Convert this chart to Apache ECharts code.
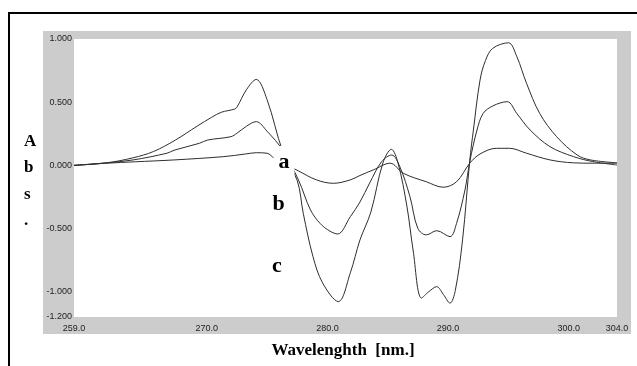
<!DOCTYPE html>
<html>
<head>
<meta charset="utf-8">
<script src="https://cdn.jsdelivr.net/npm/echarts@6/dist/echarts.min.js"></script>
<style>
  html, body { margin: 0; padding: 0; background: #fff; }
  #chart { width: 637px; height: 366px; }
</style>
</head>
<body>
<div id="chart"></div>
<script>
// Wavelength (nm) and absorbance
const waveA = [259.0, 261.7, 264.0, 267.3, 271.4, 273.2, 274.1, 275.0, 275.6, 276.5, 277.6, 279.1, 280.5, 281.9, 282.7, 283.8, 285.2, 286.3, 288.2, 289.6, 290.7, 291.8, 292.65, 294.0, 295.1, 296.5, 298.45, 300.4, 302.0, 304.0];
const absA  = [0.000, 0.017, 0.028, 0.043, 0.069, 0.090, 0.100, 0.096, 0.056, 0.010, -0.044, -0.115, -0.142, -0.115, -0.080, -0.036, 0.017, -0.063, -0.130, -0.173, -0.130, 0.017, 0.090, 0.135, 0.135, 0.096, 0.043, 0.020, 0.017, 0.017];

const waveB = [259.0, 261.7, 263.9, 266.7, 267.3, 269.4, 270.05, 272.0, 272.5, 273.3, 274.1, 275.0, 276.3, 277.6, 278.6, 279.4, 280.2, 280.85, 281.9, 282.7, 283.5, 284.5, 285.33, 286.0, 286.84, 287.5, 288.2, 289.06, 290.16, 290.7, 291.4, 291.8, 292.4, 292.9, 293.7, 294.9, 295.7, 296.8, 298.45, 300.4, 302.0, 304.0];
const absB  = [0.000, 0.020, 0.043, 0.096, 0.120, 0.175, 0.200, 0.227, 0.254, 0.310, 0.346, 0.270, 0.120, -0.115, -0.353, -0.460, -0.520, -0.543, -0.406, -0.290, -0.140, 0.030, 0.082, -0.010, -0.247, -0.500, -0.550, -0.517, -0.564, -0.460, -0.195, 0.030, 0.280, 0.410, 0.470, 0.504, 0.410, 0.280, 0.148, 0.069, 0.030, 0.003];

const waveC = [259.0, 261.7, 263.9, 265.6, 267.4, 269.2, 270.4, 271.2, 272.3, 272.5, 273.3, 274.1, 275.0, 276.3, 277.5, 278.0, 278.8, 279.6, 280.9, 281.9, 282.7, 283.6, 284.6, 285.3, 285.85, 286.6, 287.1, 287.8, 288.4, 289.06, 289.6, 290.16, 290.6, 291.2, 291.8, 292.1, 292.65, 293.1, 293.7, 295.0, 295.7, 296.5, 297.6, 299.0, 300.7, 301.8, 304.0];
const absC  = [0.000, 0.020, 0.060, 0.110, 0.200, 0.310, 0.380, 0.420, 0.445, 0.460, 0.600, 0.680, 0.520, 0.110, -0.120, -0.380, -0.720, -0.930, -1.078, -0.850, -0.590, -0.370, 0.020, 0.127, 0.020, -0.330, -0.670, -1.050, -1.000, -0.960, -1.020, -1.090, -0.990, -0.590, 0.040, 0.280, 0.675, 0.830, 0.926, 0.970, 0.860, 0.650, 0.410, 0.227, 0.082, 0.043, 0.020];

const xTicks = [259, 270, 280, 290, 300, 304];
const yTicks = [-1.2, -1.0, -0.5, 0, 0.5, 1.0];

const pairs = (xs, ys) => xs.map((x, i) => [x, ys[i]]);
const lineSeries = (name, xs, ys) => ({
  name: name, type: 'line', data: pairs(xs, ys), showSymbol: false, smooth: 0.35,
  lineStyle: { color: '#2e2e2e', width: 1 }, z: 3, silent: true
});

const chart = echarts.init(document.getElementById('chart'), null, { renderer: 'canvas' });
const serif = '"Liberation Serif", "DejaVu Serif", serif';
chart.setOption({
  animation: false,
  grid: { left: 74, top: 39, right: 20, bottom: 49, containLabel: false },
  xAxis: {
    type: 'value', min: 259, max: 304,
    axisLine: { show: false }, axisTick: { show: false }, splitLine: { show: false },
    axisLabel: { customValues: xTicks, formatter: v => v.toFixed(1), margin: 7,
      fontFamily: '"Liberation Sans", Arial, sans-serif', fontSize: 9, color: '#222' }
  },
  yAxis: {
    type: 'value', min: -1.2, max: 1.0,
    axisLine: { show: false }, axisTick: { show: false }, splitLine: { show: false },
    axisLabel: { customValues: yTicks, formatter: v => v.toFixed(3), margin: 2,
      fontFamily: '"Liberation Sans", Arial, sans-serif', fontSize: 9, color: '#222' }
  },
  graphic: [
    { type: 'rect', z: -10, shape: { x: 9, y: 13, width: 640, height: 400 },
      style: { fill: '#fff', stroke: '#000', lineWidth: 2 } },
    { type: 'rect', z: -9, shape: { x: 43, y: 31, width: 588, height: 303 },
      style: { fill: '#cccccc' } },
    { type: 'rect', z: -8, shape: { x: 74, y: 39, width: 543, height: 278 },
      style: { fill: '#ffffff' } },
    { type: 'text', z: 50, left: 24, top: 128,
      style: { text: 'A\nb\ns\n.', font: 'bold 17px ' + serif, fill: '#000', lineHeight: 26.5, align: 'center' } },
    { type: 'text', z: 50, x: 343, y: 351,
      style: { text: 'Wavelenghth  [nm.]', font: 'bold 17px ' + serif, fill: '#000', align: 'center', verticalAlign: 'middle' } },
    { type: 'text', z: 50, x: 284, y: 162,
      style: { text: 'a', font: 'bold 22px ' + serif, fill: '#000', align: 'center', verticalAlign: 'middle',
        backgroundColor: '#fff', padding: [5, 5, 5, 5] } },
    { type: 'text', z: 50, x: 278.5, y: 204,
      style: { text: 'b', font: 'bold 22px ' + serif, fill: '#000', align: 'center', verticalAlign: 'middle',
        backgroundColor: '#fff', padding: [2, 3, 2, 3] } },
    { type: 'text', z: 50, x: 277, y: 266,
      style: { text: 'c', font: 'bold 22px ' + serif, fill: '#000', align: 'center', verticalAlign: 'middle',
        backgroundColor: '#fff', padding: [2, 3, 2, 3] } }
  ],
  series: [
    lineSeries('a', waveA, absA),
    lineSeries('b', waveB, absB),
    lineSeries('c', waveC, absC)
  ]
});
</script>
</body>
</html>
